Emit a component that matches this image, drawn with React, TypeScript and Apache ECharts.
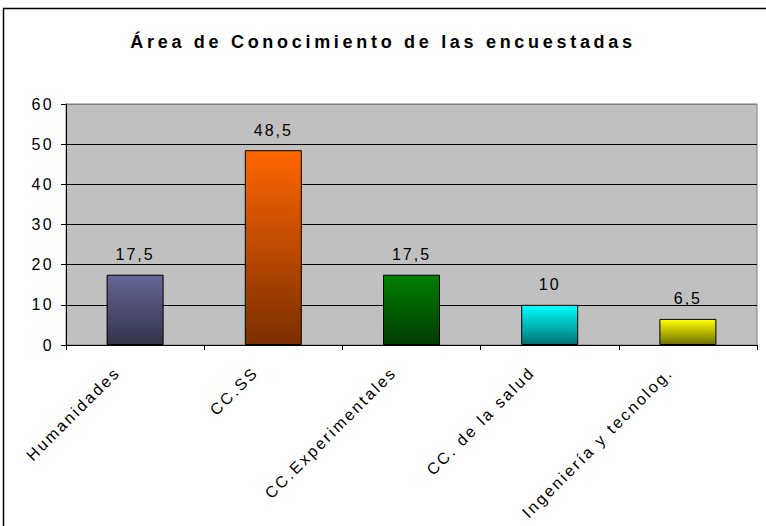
import React, { useEffect, useRef } from "react";
import * as echarts from "echarts";

const TITLE = "Área de Conocimiento de las encuestadas";
const categories = [
  "Humanidades",
  "CC.SS",
  "CC.Experimentales",
  "CC. de la salud",
  "Ingeniería y tecnolog.",
];
const values = [17.5, 48.5, 17.5, 10, 6.5];
const yTicks = { min: 0, max: 60, interval: 10 };

const topColors = ["#666699", "#FF6600", "#008000", "#00FFFF", "#FFFF00"];
const bottomColors = ["#33334A", "#7A2E00", "#003A00", "#007373", "#707000"];

const css = `
#chart-box text[style*="MkTitle"] { letter-spacing: 3.7px; }
#chart-box text[style*="MkValue"] { letter-spacing: 2px; }
#chart-box text[style*="MkAxis"] { letter-spacing: 2.4px; }
`;

export default function App() {
  const ref = useRef<HTMLDivElement>(null);
  useEffect(() => {
    if (!ref.current) return;
    const chart = echarts.init(ref.current, undefined, { renderer: "svg" });
    const fontAxis = "'Liberation Sans', MkAxis, sans-serif";
    chart.setOption({
      animation: false,
      backgroundColor: "#ffffff",
      title: {
        text: TITLE,
        left: "center",
        top: 33,
        padding: 0,
        textStyle: {
          fontFamily: "'Liberation Sans', MkTitle, sans-serif",
          fontSize: 18,
          fontWeight: "bold",
          color: "#000000",
        },
      },
      graphic: [
        {
          type: "rect",
          shape: { x: 3.5, y: 8.5, width: 900, height: 900 },
          style: { fill: "none", stroke: "#000000", lineWidth: 1.5 },
          silent: true,
          z: 100,
        },
      ],
      grid: {
        left: 66,
        right: 9,
        top: 104,
        bottom: 181,
        show: true,
        backgroundColor: "#C0C0C0",
        borderColor: "#808080",
        borderWidth: 1,
        containLabel: false,
      },
      xAxis: {
        type: "category",
        data: categories,
        boundaryGap: true,
        axisLine: { show: true, lineStyle: { color: "#000000", width: 1 } },
        axisTick: { show: true, length: 5, lineStyle: { color: "#000000" } },
        axisLabel: {
          rotate: 45,
          interval: 0,
          margin: 7,
          padding: [0, 25, 0, 0],
          fontFamily: fontAxis,
          fontSize: 16,
          color: "#000000",
        },
        splitLine: { show: false },
      },
      yAxis: {
        type: "value",
        min: yTicks.min,
        max: yTicks.max,
        interval: yTicks.interval,
        axisLine: { show: true, lineStyle: { color: "#000000", width: 1 } },
        axisTick: { show: true, length: 5, lineStyle: { color: "#000000" } },
        axisLabel: {
          margin: 12,
          fontFamily: fontAxis,
          fontSize: 16,
          color: "#000000",
        },
        splitLine: {
          show: true,
          lineStyle: {
            color: ["#000000", "#000000", "#000000", "#000000", "#000000", "#000000", "#808080"],
            width: 1,
          },
        },
      },
      series: [
        {
          type: "bar",
          barWidth: 57,
          data: values.map((v, i) => ({
            value: v,
            itemStyle: {
              color: new echarts.graphic.LinearGradient(0, 0, 0, 1, [
                { offset: 0, color: topColors[i] },
                { offset: 1, color: bottomColors[i] },
              ]),
              borderColor: "#000000",
              borderWidth: 1,
            },
          })),
          label: {
            show: true,
            position: "top",
            distance: 12,
            fontFamily: "'Liberation Sans', MkValue, sans-serif",
            fontSize: 16,
            color: "#000000",
            formatter: (p: any) => String(p.value).replace(".", ","),
          },
        },
      ],
    });
    return () => chart.dispose();
  }, []);
  return (
    <>
      <style>{css}</style>
      <div
        id="chart-box"
        ref={ref}
        style={{ position: "absolute", left: 0, top: 0, width: 766, height: 526 }}
      />
    </>
  );
}
